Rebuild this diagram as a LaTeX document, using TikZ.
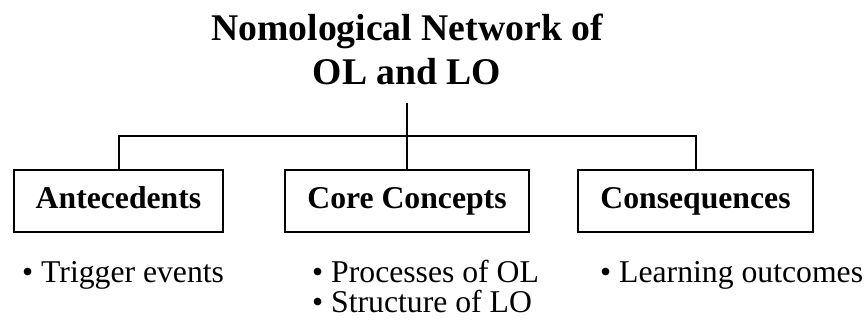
\documentclass[tikz,border=0pt]{standalone}
\usepackage{fontspec}
\setmainfont{Liberation Serif}
\usepackage{tikz}
\usetikzlibrary{positioning}
\tikzset{box/.style={draw,line width=2pt,minimum height=62pt,inner xsep=22pt,text height=22pt,text depth=7pt,font=\fontsize{31.7}{36}\selectfont\bfseries},item/.style={anchor=base west,inner sep=0pt,font=\fontsize{31.7}{36}\selectfont},link/.style={draw,line width=2pt}}

\begin{document}
\begin{tikzpicture}[x=1pt,y=-1pt]
\useasboundingbox (0,0) rectangle (867,325);
\node[align=center,anchor=south,inner xsep=0pt,inner ysep=18pt,font=\fontsize{37.7}{44}\selectfont\bfseries] (title) at (407,103) {Nomological Network of\\OL and LO};
\node[box] (ante) at (118.5,201) {Antecedents};
\node[box] (core) at (407,201) {Core Concepts};
\node[box] (cons) at (695.5,201) {Consequences};
\coordinate (bar) at (407,136);
\draw[link] (title.south)--(core.north);
\draw[link] (ante.north) |- (bar) -| (cons.north);
\node[item] (trig) at (22,282) {• Trigger events};
\node[item] (proc) at (312,282) {• Processes of OL};
\node[item] (struc) at (312,312) {• Structure of LO};
\node[item] (outc) at (600,282) {• Learning outcomes};
\end{tikzpicture}
\end{document}
